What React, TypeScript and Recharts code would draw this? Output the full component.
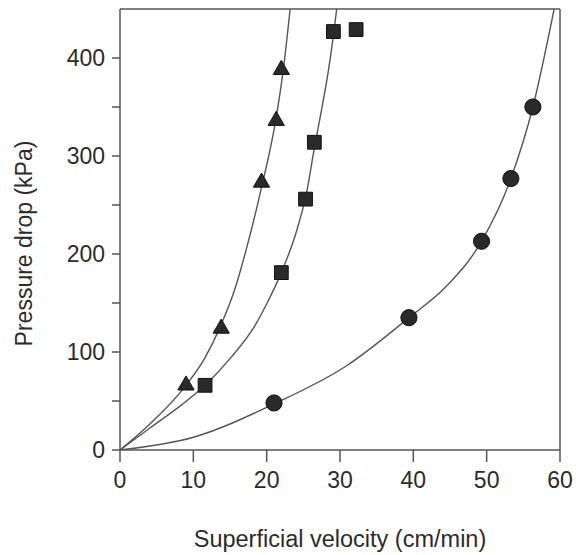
import React from 'react'
import {ComposedChart, Line, Scatter, XAxis, YAxis, ReferenceLine, Label, Symbols} from 'recharts'

// fitted curves as (velocity, pressure drop)
const triangleCurve = [[0, 0], [4, 26], [9, 66], [11.5, 93], [13.8, 128], [15.7, 165], [17.3, 207], [19.3, 268], [21.2, 335], [22.3, 390], [23.2, 450]]
const squareCurve = [[0, 0], [4, 22], [8.4, 46], [11.6, 66], [15.2, 95], [18.4, 127], [20.2, 152], [22, 181], [24.1, 224], [25.4, 261], [26.5, 308], [27.7, 356], [28.5, 391], [29.1, 423], [29.55, 450]]
const circleCurve = [[0, 0], [10, 13], [21, 47], [30.9, 86], [39.4, 135], [44.5, 167], [49.3, 213], [53.3, 277], [56.3, 350], [59.2, 450]]

// measured points
const trianglePoints = [[9.0, 66], [13.8, 124], [19.3, 273], [21.3, 336], [22.0, 388]]
const squarePoints = [[11.6, 66], [22.0, 181], [25.3, 256], [26.5, 314], [29.1, 427], [32.2, 429]]
const circlePoints = [[21.0, 48], [39.4, 135], [49.3, 213], [53.3, 277], [56.3, 350]]

const xTicks = [0, 10, 20, 30, 40, 50, 60]
const yTicks = [0, 50, 100, 150, 200, 250, 300, 350, 400]

const toRows = (pts: number[][]) => pts.map(([x, y]) => ({x, y}))

const FONT = '"Liberation Sans", Arial, sans-serif'
const INK = '#2b2b2b'
const LINE = '#555'
const MARK = '#2a2a2a'

const marker = (type: 'triangle' | 'square' | 'circle', size: number) => (props: any) => (
    <Symbols cx={props.cx} cy={props.cy} type={type} size={size} sizeType="area"
             fill={MARK} stroke="#111" strokeWidth={1}/>
)

const YTitle = (props: any) => {
    const vb = props.viewBox || {x: 0, y: 0, width: 120, height: 441}
    const x = vb.x + 32
    const y = vb.y + vb.height / 2 + 14
    return (
        <text x={x} y={y} transform={`rotate(-90 ${x} ${y})`} textAnchor="middle"
              fill={INK} fontSize={23} fontFamily={FONT}>Pressure drop (kPa)</text>
    )
}

export default function App() {
    return (
        <div style={{position: 'absolute', left: 0, top: 0, background: '#fff'}}>
            <ComposedChart width={576} height={555} margin={{top: 9, right: 16, bottom: 0, left: 0}}>
                <XAxis type="number" dataKey="x" domain={[0, 60]} ticks={xTicks} allowDataOverflow
                       height={105} tickSize={12} tickMargin={10}
                       stroke={LINE} strokeWidth={1.5}
                       tick={{fill: INK, fontSize: 23, fontFamily: FONT}}>
                    <Label value="Superficial velocity (cm/min)" position="insideBottom" offset={8}
                           fill={INK} fontSize={23.5} fontFamily={FONT}/>
                </XAxis>
                <YAxis type="number" dataKey="y" domain={[0, 450]} ticks={yTicks} allowDataOverflow
                       width={120} tickSize={8} tickMargin={7}
                       stroke={LINE} strokeWidth={1.5}
                       tickFormatter={(v: number) => (v % 100 === 0 ? String(v) : '')}
                       tick={{fill: INK, fontSize: 23, fontFamily: FONT}}>
                    <Label content={YTitle}/>
                </YAxis>
                <ReferenceLine y={450} stroke={LINE} strokeWidth={1.5}/>
                <ReferenceLine x={60} stroke={LINE} strokeWidth={1.5}/>
                <Line data={toRows(triangleCurve)} dataKey="y" type="monotone" stroke={LINE} strokeWidth={1.4}
                      dot={false} activeDot={false} isAnimationActive={false}/>
                <Line data={toRows(squareCurve)} dataKey="y" type="monotone" stroke={LINE} strokeWidth={1.4}
                      dot={false} activeDot={false} isAnimationActive={false}/>
                <Line data={toRows(circleCurve)} dataKey="y" type="monotone" stroke={LINE} strokeWidth={1.4}
                      dot={false} activeDot={false} isAnimationActive={false}/>
                <Scatter data={toRows(trianglePoints)} shape={marker('triangle', 115)} isAnimationActive={false}/>
                <Scatter data={toRows(squarePoints)} shape={marker('square', 190)} isAnimationActive={false}/>
                <Scatter data={toRows(circlePoints)} shape={marker('circle', 205)} isAnimationActive={false}/>
            </ComposedChart>
        </div>
    )
}
